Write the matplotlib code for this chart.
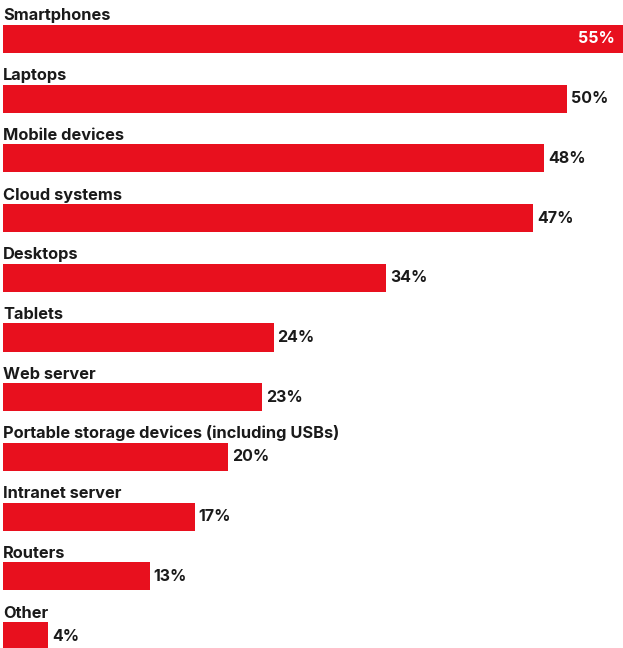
import matplotlib.pyplot as plt

# Data
categories = ["Smartphones", "Laptops", "Mobile devices", "Cloud systems", "Desktops",
              "Tablets", "Web server", "Portable storage devices (including USBs)",
              "Intranet server", "Routers", "Other"]
values = [55, 50, 48, 47, 34, 24, 23, 20, 17, 13, 4]

red = "#E8101E"
ink = "#1a1a1a"
plt.rcParams['font.family'] = ['Inter', 'DejaVu Sans']

fig = plt.figure(figsize=(6.23, 6.48), dpi=100)
ax = fig.add_axes([0, 0, 1, 1])

rows = list(range(len(categories)))
ax.barh(rows, values, height=0.47, color=red, left=0)

for i, (cat, v) in enumerate(zip(categories, values)):
    ax.text(0, i - 0.31, cat, fontsize=11.8, fontweight='bold', color=ink,
            ha='left', va='baseline')
    if i == 0:
        ax.text(v - 0.7, i, f"{v}%", fontsize=11.5, fontweight='bold', color='white',
                ha='right', va='center')
    else:
        ax.text(v + 0.35, i, f"{v}%", fontsize=11.5, fontweight='bold', color=ink,
                ha='left', va='center')

ax.set_xlim(-0.27, 55)
ax.set_ylim(10.2, -0.653)
ax.axis('off')

fig.savefig("out.png", dpi=100)
